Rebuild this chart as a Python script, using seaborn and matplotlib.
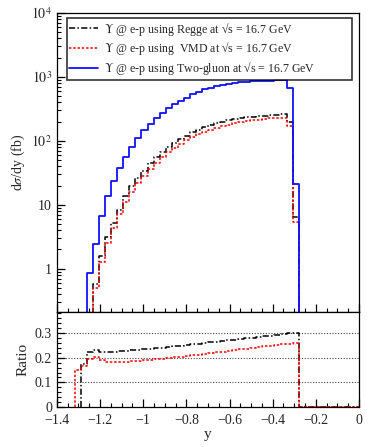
import numpy as np
import pandas as pd
import matplotlib
matplotlib.use("Agg")
import matplotlib.pyplot as plt
import seaborn as sns
from matplotlib.ticker import FixedLocator, MultipleLocator, LogLocator, FuncFormatter, NullFormatter

# binning: 50 bins on [-1.4, 0]
y_edges = np.linspace(-1.4, 0.0, 51)

# d(sigma)/dy (fb), first non-empty bin index given separately
tg_first = 5
tg_vals = [0.87, 2.45, 6.7, 13.6, 23.4, 37.9, 55.4, 79.0, 110, 147, 186, 226, 273,
           323, 375, 420, 471, 532, 584, 638, 675, 715, 750, 780, 805, 825, 840,
           852, 862, 870, 877, 882, 885, 660, 21.0]
regge_first = 6
regge_vals = [0.57, 1.56, 3.15, 5.27, 8.4, 13.5, 19.4, 26.5, 34.3, 44.5, 55.4, 66.7,
              78.9, 93.6, 108, 121, 135, 150, 165, 178, 191, 200, 210, 218, 226,
              234, 237, 242, 248, 250, 253, 262, 200, 6.4]
vmd_first = 6
vmd_vals = [0.50, 1.27, 2.54, 4.4, 7.1, 11.2, 15.8, 21.8, 28.3, 35.9, 45.6, 55.4,
            66.0, 76.0, 89.0, 103, 116, 127, 139, 150, 161, 172, 180, 189, 195,
            203, 210, 215, 221, 225, 226, 226, 172, 5.4]

# ratio panel
rr_first = 4
ratio_regge = [0.175, 0.222, 0.232, 0.224, 0.222, 0.224, 0.226, 0.229, 0.231, 0.233,
               0.235, 0.237, 0.239, 0.241, 0.244, 0.247, 0.249, 0.252, 0.255, 0.257,
               0.260, 0.263, 0.265, 0.268, 0.271, 0.274, 0.276, 0.279, 0.282, 0.285,
               0.287, 0.290, 0.293, 0.296, 0.300, 0.300]
rv_first = 3
ratio_vmd = [0.150, 0.166, 0.197, 0.205, 0.190, 0.184, 0.182, 0.183, 0.184, 0.186,
             0.188, 0.190, 0.192, 0.194, 0.196, 0.199, 0.202, 0.205, 0.208, 0.211,
             0.213, 0.216, 0.219, 0.222, 0.225, 0.228, 0.231, 0.234, 0.237, 0.240,
             0.243, 0.246, 0.249, 0.252, 0.255, 0.258, 0.260]

labels = [r"$\Upsilon$ @ e-p using Regge at " + "\u221as = 16.7 GeV",
          r"$\Upsilon$ @ e-p using  VMD at " + "\u221as = 16.7 GeV",
          r"$\Upsilon$ @ e-p using Two-gluon at " + "\u221as = 16.7 GeV"]
colors = ["black", "#ff0000", "#1010ff"]
styles = [(0, (4, 1.5, 1, 1.5)), (0, (1.6, 1.2)), "-"]


def step_frame(first, vals):
    # points for a steps-post line: start at 0, climb to first bin, drop to 0 at the end
    xs = [y_edges[first]] + list(y_edges[first:first + len(vals) + 1]) + [0.0]
    ys = [0.0] + list(vals) + [0.0, 0.0]
    return pd.DataFrame({"y": xs, "v": ys})


sns.set_theme(style="ticks")
plt.rcParams["font.family"] = ["Liberation Serif", "DejaVu Serif"]
plt.rcParams["mathtext.fontset"] = "stix"

fig = plt.figure(figsize=(3.74, 4.47), dpi=100)
ax = fig.add_axes([0.152, 0.302, 0.808, 0.669])
axr = fig.add_axes([0.152, 0.0895, 0.808, 0.2125], sharex=ax)

for (first, vals), lab, c, ls in zip(
    [(regge_first, regge_vals), (vmd_first, vmd_vals), (tg_first, tg_vals)],
    labels, colors, styles
):
    sns.lineplot(data=step_frame(first, vals), x="y", y="v", ax=ax, color=c,
                 linestyle=ls, lw=1.1 if c != colors[2] else 1.3,
                 drawstyle="steps-post", estimator=None, sort=False, label=lab)

for (first, vals), c, ls in zip([(rr_first, ratio_regge), (rv_first, ratio_vmd)],
                                colors[:2], styles[:2]):
    sns.lineplot(data=step_frame(first, vals), x="y", y="v", ax=axr, color=c,
                 linestyle=ls, lw=1.1, drawstyle="steps-post",
                 estimator=None, sort=False)

# main panel
ax.set_yscale("log")
ax.set_ylim(0.21, 1e4)
ax.set_xlim(-1.4, 0.0)
ax.yaxis.set_major_locator(LogLocator(base=10, numticks=10))
ax.yaxis.set_minor_locator(LogLocator(base=10, subs=np.arange(2, 10), numticks=20))
ax.yaxis.set_minor_formatter(NullFormatter())
ax.yaxis.set_major_formatter(FuncFormatter(
    lambda v, p: "1" if abs(v - 1) < 1e-9 else ("10" if abs(v - 10) < 1e-9
                                                else r"$10^{%d}$" % round(np.log10(v)))))
ax.set_ylabel(r"d$\sigma$/dy (fb)", fontsize=10, labelpad=3)
ax.set_xlabel("")
ax.tick_params(axis="x", labelbottom=False)

leg = ax.legend(loc="upper left", bbox_to_anchor=(0.032, 0.793, 0.944, 0.19),
                mode="expand", borderaxespad=0, fontsize=8.6, frameon=True,
                fancybox=False, handlelength=2.4, handletextpad=0.5,
                labelspacing=0.22, borderpad=0.22)
leg.get_frame().set_edgecolor("black")
leg.get_frame().set_linewidth(1.2)

# ratio panel
axr.set_ylim(0, 0.386)
axr.yaxis.set_major_locator(FixedLocator([0, 0.1, 0.2, 0.3]))
axr.yaxis.set_minor_locator(MultipleLocator(0.02))
axr.yaxis.set_major_formatter(FuncFormatter(lambda v, p: "0" if v == 0 else f"{v:.1f}"))
for g in [0.1, 0.2, 0.3]:
    axr.axhline(g, color="#444444", lw=0.8, ls=(0, (1, 1.5)), zorder=0)
axr.set_ylabel("Ratio", fontsize=11, labelpad=4)
axr.set_xlabel("y", fontsize=11, labelpad=1)
axr.xaxis.set_major_locator(MultipleLocator(0.2))
axr.xaxis.set_minor_locator(MultipleLocator(0.05))
axr.xaxis.set_major_formatter(FuncFormatter(
    lambda v, p: "0" if abs(v) < 1e-9 else f"{v:g}".replace("-", "\u2212")))

for a in (ax, axr):
    a.tick_params(which="both", direction="in", labelsize=10, color="black",
                  bottom=True, left=True, top=False, right=False)
    a.tick_params(which="major", length=6, width=0.9)
    a.tick_params(which="minor", length=3, width=0.8)
    for s in a.spines.values():
        s.set_color("black")
        s.set_linewidth(0.9)
axr.tick_params(axis="x", pad=5)

fig.savefig("out.png", dpi=100)
